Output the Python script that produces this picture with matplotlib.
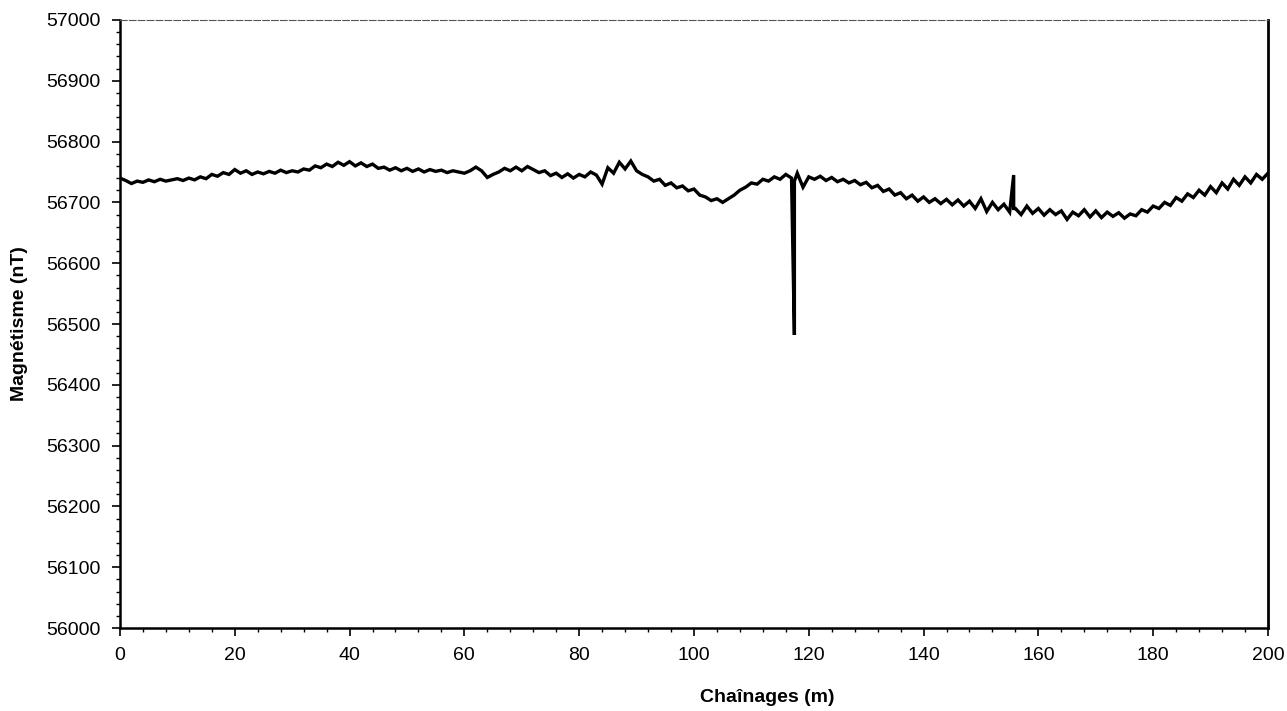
import numpy as np
import matplotlib.pyplot as plt
from matplotlib.ticker import MultipleLocator

plt.rcParams['font.family'] = ['Liberation Sans', 'DejaVu Sans']

# readings every 1 m, from 0 to 200 m
mag = [56740, 56736, 56731, 56735, 56733, 56737, 56734, 56738, 56735, 56737,
       56739, 56736, 56740, 56737, 56742, 56739, 56746, 56743, 56749, 56746,
       56754, 56748, 56752, 56746, 56750, 56747, 56751, 56748, 56753, 56749,
       56752, 56750, 56755, 56753, 56760, 56757, 56763, 56759, 56766, 56761,
       56767, 56760, 56765, 56759, 56763, 56756, 56758, 56753, 56757, 56752,
       56756, 56751, 56755, 56750, 56754, 56751, 56753, 56749, 56752, 56750,
       56748, 56752, 56758, 56752, 56741, 56746, 56750, 56756, 56752, 56758,
       56752, 56759, 56754, 56749, 56752, 56744, 56748, 56741, 56747, 56740,
       56746, 56742, 56750, 56745, 56730, 56757, 56748, 56766, 56755, 56768,
       56752, 56746, 56742, 56735, 56738, 56728, 56732, 56724, 56727, 56719,
       56722, 56712, 56709, 56703, 56706, 56700, 56706, 56712, 56720, 56725,
       56732, 56730, 56738, 56735, 56742, 56738, 56746, 56740, 56748, 56725,
       56742, 56738, 56743, 56736, 56741, 56734, 56738, 56732, 56736, 56729,
       56733, 56724, 56728, 56718, 56722, 56712, 56716, 56706, 56712, 56702,
       56709, 56700, 56706, 56698, 56705, 56696, 56704, 56694, 56702, 56690,
       56706, 56685, 56700, 56688, 56697, 56684, 56690, 56680, 56694, 56682,
       56690, 56679, 56688, 56680, 56686, 56672, 56684, 56678, 56688, 56676,
       56686, 56675, 56684, 56677, 56683, 56674, 56681, 56678, 56688, 56684,
       56694, 56690, 56700, 56695, 56708, 56702, 56714, 56708, 56720, 56712,
       56726, 56716, 56732, 56722, 56738, 56728, 56742, 56732, 56746, 56738,
       56748]
chain = np.arange(0, 201, 1)

# isolated spikes (down and back at the same chainage)
spike_pos = [117.5, 117.5, 155.7, 155.7]
spike_val = [56482, 56735, 56745, 56690]

x = np.concatenate([chain, spike_pos])
y = np.concatenate([mag, spike_val])
order = np.argsort(x, kind='stable')
x, y = x[order], y[order]

fig = plt.figure(figsize=(12.87, 7.11), dpi=100)
ax = fig.add_axes([0.0932, 0.1167, 0.892, 0.8552])

ax.plot(x, y, color='black', lw=2.4, solid_joinstyle='miter')

ax.set_xlim(0, 200)
ax.set_ylim(56000, 57000)
ax.xaxis.set_major_locator(MultipleLocator(20))
ax.xaxis.set_minor_locator(MultipleLocator(4))
ax.yaxis.set_major_locator(MultipleLocator(100))
ax.yaxis.set_minor_locator(MultipleLocator(20))
ax.tick_params(which='major', direction='out', length=6, width=1.2, labelsize=14, pad=8)
ax.tick_params(which='minor', direction='out', length=3, width=1)

for s in ['left', 'bottom']:
    ax.spines[s].set_linewidth(1.8)
ax.spines['right'].set_linewidth(2)
ax.spines['top'].set_linewidth(0.8)
ax.spines['top'].set_color('#555555')
ax.spines['top'].set_linestyle((0, (6, 2)))

ax.set_xlabel('Chaînages (m)', fontsize=14, fontweight='bold')
ax.set_ylabel('Magnétisme (nT)', fontsize=14, fontweight='bold')
ax.xaxis.set_label_coords(0.564, -0.1)
ax.yaxis.set_label_coords(-0.08, 0.5)

fig.savefig('out.png', dpi=100)
